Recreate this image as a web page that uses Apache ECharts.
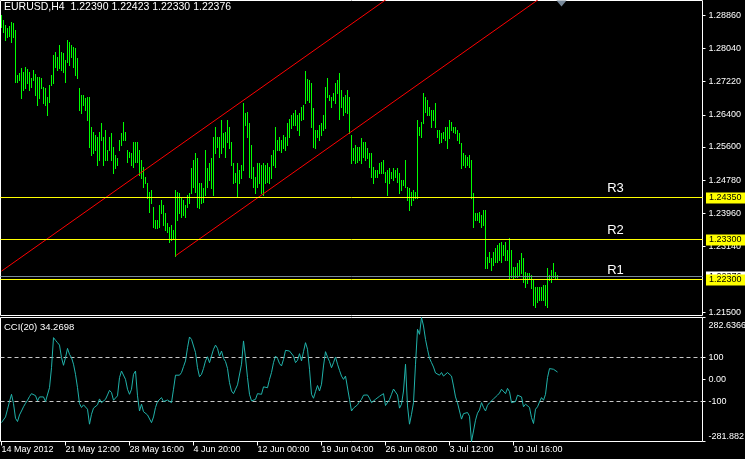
<!DOCTYPE html>
<html>
<head>
<meta charset="utf-8">
<style>
  html, body { margin: 0; padding: 0; background: #000; }
  #chart { width: 745px; height: 459px; }
</style>
<script src="https://cdn.jsdelivr.net/npm/echarts@6/dist/echarts.min.js"></script>
</head>
<body>
<div id="chart"></div>
<script>
// ---------------- data ----------------
const symbolTitle = 'EURUSD,H4  1.22390 1.22423 1.22330 1.22376';
const cciTitle = 'CCI(20) 34.2698';

const timeLabels = ['14 May 2012', '21 May 12:00', '28 May 16:00', '4 Jun 20:00', '12 Jun 00:00', '19 Jun 04:00', '26 Jun 08:00', '3 Jul 12:00', '10 Jul 16:00'];
const timeLabelBars = [0, 32, 64, 96, 128, 160, 192, 224, 256];

const priceTicks = [1.2150, 1.2314, 1.2396, 1.2478, 1.2560, 1.2640, 1.2722, 1.2804, 1.2886];

const highs = [
  1.2887,1.2875,1.2862,1.2855,1.2860,1.2870,1.2867,1.2850,1.2738,1.2743,
  1.2756,1.2746,1.2758,1.2753,1.2746,1.2731,1.2751,1.2741,1.2733,1.2733,
  1.2731,1.2709,1.2706,1.2684,1.2714,1.2738,1.2788,1.2795,1.2783,1.2813,
  1.2795,1.2793,1.2776,1.2825,1.2820,1.2813,1.2808,1.2805,1.2781,1.2706,
  1.2689,1.2689,1.2681,1.2684,1.2684,1.2609,1.2597,1.2590,1.2585,1.2597,
  1.2619,1.2585,1.2602,1.2552,1.2585,1.2595,1.2560,1.2540,1.2533,1.2577,
  1.2595,1.2622,1.2597,1.2552,1.2547,1.2545,1.2572,1.2572,1.2572,1.2552,
  1.2528,1.2510,1.2485,1.2471,1.2448,1.2453,1.2411,1.2379,1.2379,1.2416,
  1.2428,1.2416,1.2396,1.2371,1.2361,1.2366,1.2354,1.2453,1.2448,1.2446,
  1.2436,1.2428,1.2416,1.2441,1.2446,1.2508,1.2528,1.2545,1.2533,1.2471,
  1.2471,1.2458,1.2552,1.2508,1.2520,1.2533,1.2585,1.2609,1.2585,1.2585,
  1.2627,1.2595,1.2597,1.2627,1.2609,1.2572,1.2520,1.2495,1.2520,1.2503,
  1.2515,1.2669,1.2644,1.2647,1.2619,1.2565,1.2510,1.2485,1.2520,1.2520,
  1.2515,1.2520,1.2515,1.2520,1.2510,1.2540,1.2552,1.2609,1.2577,1.2585,
  1.2577,1.2590,1.2585,1.2619,1.2629,1.2639,1.2644,1.2652,1.2639,1.2644,
  1.2659,1.2664,1.2748,1.2728,1.2726,1.2719,1.2657,1.2602,1.2602,1.2614,
  1.2619,1.2639,1.2709,1.2731,1.2689,1.2684,1.2694,1.2719,1.2726,1.2743,
  1.2701,1.2684,1.2689,1.2701,1.2684,1.2590,1.2557,1.2565,1.2560,1.2560,
  1.2582,1.2572,1.2572,1.2557,1.2545,1.2545,1.2510,1.2503,1.2503,1.2520,
  1.2523,1.2528,1.2498,1.2503,1.2508,1.2498,1.2508,1.2503,1.2508,1.2495,
  1.2478,1.2478,1.2528,1.2461,1.2458,1.2448,1.2453,1.2448,1.2627,1.2609,
  1.2622,1.2694,1.2684,1.2676,1.2659,1.2652,1.2652,1.2669,1.2602,1.2602,
  1.2595,1.2597,1.2609,1.2609,1.2627,1.2622,1.2609,1.2609,1.2602,1.2595,
  1.2570,1.2545,1.2540,1.2535,1.2540,1.2528,1.2446,1.2396,1.2396,1.2399,
  1.2391,1.2404,1.2404,1.2287,1.2299,1.2285,1.2299,1.2309,1.2317,1.2322,
  1.2324,1.2317,1.2324,1.2304,1.2334,1.2304,1.2262,1.2262,1.2272,1.2280,
  1.2297,1.2285,1.2250,1.2247,1.2247,1.2242,1.2230,1.2213,1.2213,1.2213,
  1.2213,1.2218,1.2218,1.2260,1.2242,1.2255,1.2272,1.2250,1.22423
];

const lows = [
  1.2857,1.2845,1.2825,1.2833,1.2835,1.2820,1.2833,1.2721,1.2721,1.2726,
  1.2681,1.2701,1.2706,1.2719,1.2701,1.2709,1.2726,1.2689,1.2664,1.2681,
  1.2706,1.2669,1.2664,1.2639,1.2671,1.2714,1.2719,1.2758,1.2751,1.2756,
  1.2751,1.2746,1.2721,1.2771,1.2763,1.2783,1.2758,1.2738,1.2731,1.2652,
  1.2644,1.2664,1.2652,1.2627,1.2560,1.2540,1.2545,1.2552,1.2515,1.2528,
  1.2577,1.2515,1.2528,1.2528,1.2552,1.2528,1.2495,1.2508,1.2515,1.2552,
  1.2565,1.2577,1.2577,1.2523,1.2535,1.2515,1.2510,1.2523,1.2523,1.2490,
  1.2483,1.2461,1.2471,1.2433,1.2399,1.2421,1.2361,1.2359,1.2359,1.2361,
  1.2396,1.2366,1.2354,1.2349,1.2324,1.2329,1.2334,1.2290,1.2379,1.2396,
  1.2386,1.2391,1.2386,1.2411,1.2421,1.2446,1.2461,1.2448,1.2411,1.2409,
  1.2421,1.2423,1.2441,1.2461,1.2478,1.2458,1.2441,1.2545,1.2560,1.2535,
  1.2545,1.2560,1.2535,1.2572,1.2557,1.2515,1.2471,1.2473,1.2436,1.2471,
  1.2483,1.2503,1.2614,1.2585,1.2485,1.2483,1.2461,1.2446,1.2461,1.2471,
  1.2446,1.2441,1.2471,1.2473,1.2471,1.2483,1.2515,1.2510,1.2552,1.2552,
  1.2547,1.2557,1.2552,1.2565,1.2585,1.2607,1.2614,1.2614,1.2602,1.2590,
  1.2627,1.2629,1.2669,1.2676,1.2671,1.2609,1.2560,1.2557,1.2585,1.2577,
  1.2590,1.2602,1.2607,1.2684,1.2676,1.2659,1.2676,1.2669,1.2694,1.2629,
  1.2659,1.2639,1.2647,1.2644,1.2595,1.2520,1.2528,1.2520,1.2523,1.2528,
  1.2520,1.2535,1.2528,1.2533,1.2510,1.2485,1.2471,1.2485,1.2485,1.2495,
  1.2495,1.2495,1.2473,1.2441,1.2471,1.2483,1.2478,1.2485,1.2473,1.2446,
  1.2453,1.2466,1.2461,1.2428,1.2404,1.2416,1.2428,1.2433,1.2433,1.2590,
  1.2585,1.2619,1.2647,1.2639,1.2639,1.2609,1.2627,1.2609,1.2585,1.2570,
  1.2572,1.2582,1.2577,1.2557,1.2582,1.2602,1.2597,1.2595,1.2577,1.2570,
  1.2508,1.2515,1.2510,1.2515,1.2510,1.2433,1.2361,1.2379,1.2379,1.2374,
  1.2361,1.2366,1.2260,1.2260,1.2275,1.2255,1.2267,1.2275,1.2275,1.2280,
  1.2275,1.2292,1.2280,1.2280,1.2235,1.2237,1.2235,1.2237,1.2237,1.2242,
  1.2247,1.2225,1.2213,1.2223,1.2235,1.2210,1.2168,1.2163,1.2175,1.2180,
  1.2180,1.2180,1.2168,1.2163,1.2230,1.2225,1.2237,1.2235,1.22330
];

const cciValues = [
  -196,-200,-170,-135,-100,-67,-109,-176,-191,-161,
  -143,-124,-108,-94,-77,-64,-58,-73,-97,-79,
  -71,-79,-100,-94,-37,54,191,179,168,157,
  100,65,100,142,115,100,70,24,-37,-109,
  -127,-115,-121,-135,-203,-158,-130,-135,-115,-88,
  -105,-97,-90,-70,-49,-59,-94,-90,-74,9,
  39,39,1,-44,-67,-44,24,39,-74,-143,
  -112,-146,-153,-161,-170,-196,-170,-127,-100,-100,
  -82,-100,-100,-93,-100,-105,-44,20,29,20,
  32,59,85,145,194,183,179,123,54,13,
  24,51,85,104,77,85,138,157,142,107,
  130,97,82,51,-14,-52,-64,-44,-24,-26,
  70,176,100,9,-67,-97,-91,-90,-64,-67,
  -67,-33,-37,-37,1,32,77,107,97,73,
  62,92,133,141,130,130,107,77,88,118,
  85,127,168,138,47,-67,-85,-55,-27,-52,
  -21,62,127,103,82,54,77,103,70,42,
  16,1,16,9,-90,-143,-130,-130,-115,-100,
  -90,-71,-67,-70,-85,-105,-106,-90,-82,-76,
  -67,-64,-118,-109,-91,-67,-43,-43,-70,-130,
  -112,-52,70,-120,-203,-158,-105,70,229,206,
  282.6366,244,183,138,97,77,57,30,29,20,
  32,16,13,32,36,16,-29,-79,-106,-143,
  -180,-155,-158,-150,-167,-281.882,-234,-185,-153,-138,
  -105,-127,-143,-117,-106,-105,-88,-79,-71,-61,
  -44,-40,-64,-40,-55,-105,-97,-100,-71,-67,
  -79,-124,-112,-112,-127,-173,-200,-135,-124,-102,
  -82,-94,-67,9,50,57,47,38,34.2698
];
const cciLevels = [100, -100];
const cciAxisValues = [-281.882, -100, 0, 100, 282.6366];

// channel (bar index, price)
const channelUpper = [[0, 1.2252], [220, 1.3023]];
const channelLower = [[87, 1.2290], [300, 1.30366]];

// horizontal levels: bid line first, then resistance levels
const levelNames = ['', 'R3', 'R2', 'R1'];
const levelPrices = [1.22376, 1.2435, 1.2330, 1.2230];
const levelLabelBar = 307;
const shiftBar = 280;

// ---------------- chart ----------------
const FONT = '"Liberation Sans", Arial, sans-serif';
const priceMin = 1.21419, priceMax = 1.29235;
const cciMin = -281.882, cciMax = 282.6366;
const xMin = -0.5, xMax = 350.5;

const barData = highs.map((h, i) => [i, h, lows[i]]);
const cciData = cciValues.map((v, i) => [i, v]);
const levelData = levelPrices.map((p, k) => [levelLabelBar, p, k]);
const cciLevelData = cciLevels.map(v => [0, v]);

const snap = v => Math.round(v - 0.5) + 0.5;

const chart = echarts.init(document.getElementById('chart'), null, { renderer: 'canvas' });

const option = {
  backgroundColor: '#000',
  animation: false,
  title: [
    { text: symbolTitle, left: 4, top: 2, padding: 0, textStyle: { color: '#fff', fontSize: 10.5, fontWeight: 'normal', fontFamily: FONT } },
    { text: cciTitle, left: 4, top: 322, padding: 0, textStyle: { color: '#fff', fontSize: 9.5, fontWeight: 'normal', fontFamily: FONT } }
  ],
  grid: [
    { left: 0.5, top: 0.5, width: 702, height: 315, show: true, borderColor: '#fff', borderWidth: 1, backgroundColor: '#000', containLabel: false, outerBoundsMode: 'none' },
    { left: 0.5, top: 317.5, width: 702, height: 124, show: true, borderColor: '#fff', borderWidth: 1, backgroundColor: '#000', containLabel: false, outerBoundsMode: 'none' }
  ],
  xAxis: [
    { gridIndex: 0, type: 'value', min: xMin, max: xMax, show: false, axisLine: { onZero: false } },
    {
      gridIndex: 1, type: 'value', min: xMin, max: xMax,
      axisLine: { show: false, onZero: false },
      splitLine: { show: false },
      axisTick: { show: true, customValues: timeLabelBars, length: 4, lineStyle: { color: '#fff' } },
      axisLabel: {
        show: true, customValues: timeLabelBars, color: '#fff', fontSize: 9, fontFamily: FONT, align: 'left', margin: 4,
        formatter: v => { const k = timeLabelBars.indexOf(Math.round(v)); return k >= 0 ? timeLabels[k] : ''; }
      }
    }
  ],
  yAxis: [
    {
      gridIndex: 0, type: 'value', position: 'right', min: priceMin, max: priceMax,
      splitLine: { show: false }, axisLine: { show: false, onZero: false },
      axisTick: { show: true, customValues: priceTicks, length: 3, lineStyle: { color: '#fff' } },
      axisLabel: { show: true, customValues: priceTicks, color: '#fff', fontSize: 9, fontFamily: FONT, margin: 6, formatter: v => v.toFixed(5) }
    },
    {
      gridIndex: 1, type: 'value', position: 'right', min: cciMin, max: cciMax,
      splitLine: { show: false }, axisLine: { show: false, onZero: false },
      axisTick: { show: true, customValues: cciAxisValues, length: 3, lineStyle: { color: '#fff' } },
      axisLabel: {
        show: true, customValues: cciAxisValues, color: '#fff', fontSize: 9, fontFamily: FONT, margin: 6,
        formatter: v => {
          if (v === cciMax) return '{t|282.6366}';
          if (v === cciMin) return '{b|-281.882}';
          if (v === 0) return '0.00';
          return String(v);
        },
        rich: {
          t: { color: '#fff', fontSize: 9, fontFamily: FONT, padding: [16, 0, 0, 0] },
          b: { color: '#fff', fontSize: 9, fontFamily: FONT, padding: [0, 0, 10, 0] }
        }
      }
    }
  ],
  series: [
    {
      type: 'custom',
      name: 'EURUSD',
      xAxisIndex: 0, yAxisIndex: 0,
      data: barData,
      encode: { x: 0, y: [1, 2] },
      clip: true,
      renderItem: (params, api) => {
        const i = api.value(0);
        const top = api.coord([i, api.value(1)]);
        const bot = api.coord([i, api.value(2)]);
        return {
          type: 'line',
          shape: { x1: top[0], y1: Math.round(top[1]), x2: bot[0], y2: Math.round(bot[1]) + 1 },
          style: { stroke: '#00ff00', lineWidth: 1 }
        };
      },
      markPoint: {
        silent: true, animation: false,
        data: [{
          name: 'shift', coord: [shiftBar, priceMax], symbol: 'triangle', symbolRotate: 180, symbolSize: [10, 6], symbolOffset: [0, 3],
          itemStyle: { color: '#778899' }, label: { show: false }
        }]
      }
    },
    {
      type: 'line', name: 'channel1', xAxisIndex: 0, yAxisIndex: 0, data: channelUpper,
      showSymbol: false, symbol: 'none', clip: true, silent: true,
      lineStyle: { color: '#ff0000', width: 1 }
    },
    {
      type: 'line', name: 'channel2', xAxisIndex: 0, yAxisIndex: 0, data: channelLower,
      showSymbol: false, symbol: 'none', clip: true, silent: true,
      lineStyle: { color: '#ff0000', width: 1 }
    },
    {
      type: 'custom', name: 'levels', xAxisIndex: 0, yAxisIndex: 0,
      data: levelData, encode: { x: 0, y: 1 }, clip: false, silent: true, z: 5,
      renderItem: (params, api) => {
        const cs = params.coordSys;
        const price = api.value(1);
        const k = api.value(2);
        const pt = api.coord([api.value(0), price]);
        const y = snap(pt[1]);
        const isBid = levelNames[k] === '';
        const children = [
          { type: 'line', shape: { x1: cs.x, y1: y, x2: cs.x + cs.width, y2: y },
            style: { stroke: isBid ? '#778899' : '#ffff00', lineWidth: 1 } },
          { type: 'text', x: cs.x + cs.width + 3.5, y: y + 0.5,
            style: { text: price.toFixed(5), fill: '#000', backgroundColor: isBid ? '#ffffff' : '#ffff00',
              padding: [1, 6, 1, 3], font: '9px ' + FONT, align: 'left', verticalAlign: 'middle' } }
        ];
        if (!isBid) {
          children.push({ type: 'text', x: pt[0], y: y - 9,
            style: { text: levelNames[k], fill: '#fff', font: '13px ' + FONT, align: 'center', verticalAlign: 'middle' } });
        }
        return { type: 'group', children: children };
      }
    },
    {
      type: 'line', name: 'CCI', xAxisIndex: 1, yAxisIndex: 1, data: cciData,
      showSymbol: false, symbol: 'none', clip: true, silent: true,
      lineStyle: { color: '#20b2aa', width: 1 }
    },
    {
      type: 'custom', name: 'cciLevels', xAxisIndex: 1, yAxisIndex: 1,
      data: cciLevelData, encode: { x: 0, y: 1 }, clip: false, silent: true,
      renderItem: (params, api) => {
        const cs = params.coordSys;
        const y = snap(api.coord([api.value(0), api.value(1)])[1]);
        return { type: 'line', shape: { x1: cs.x, y1: y, x2: cs.x + cs.width, y2: y },
          style: { stroke: '#c8c8c8', lineWidth: 1, lineDash: [4, 3] } };
      }
    }
  ]
};
chart.setOption(option);
</script>
</body>
</html>
